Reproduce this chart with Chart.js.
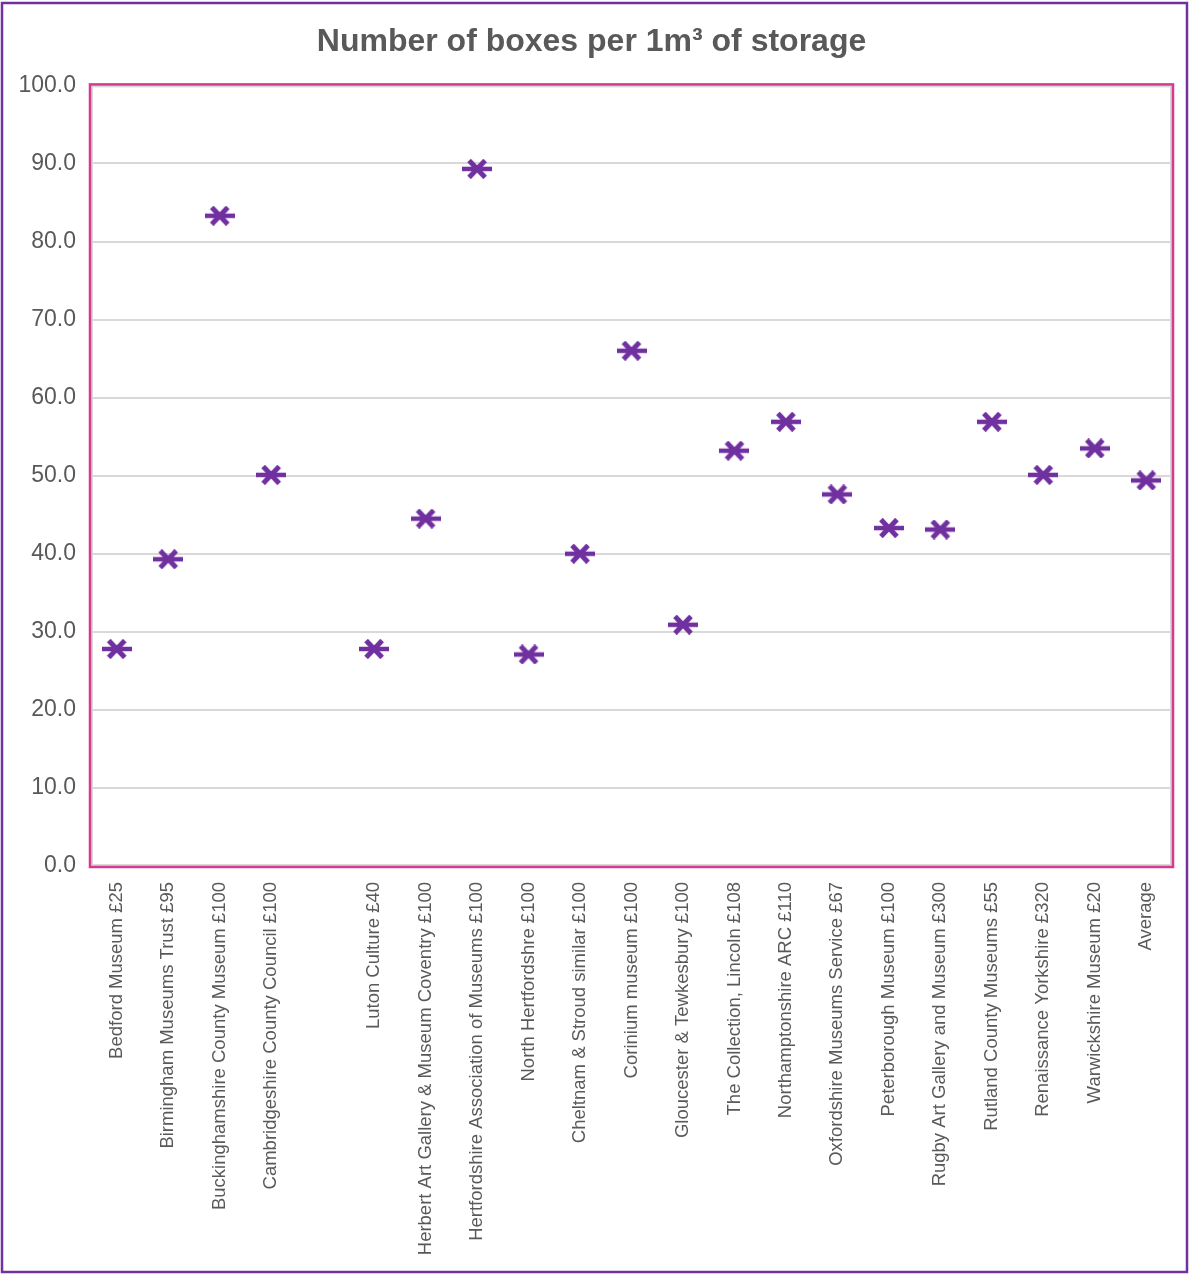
<!DOCTYPE html>
<html>
<head>
<meta charset="utf-8">
<script src="https://cdn.jsdelivr.net/npm/chart.js@4.4.1/dist/chart.umd.min.js"></script>
<style>
  html, body { margin: 0; padding: 0; background: #fff; }
  #wrap { width: 1189px; height: 1274px; position: relative; }
</style>
</head>
<body>
<div id="wrap"><canvas id="boxChart"></canvas></div>
<script>
// storage figures
const museums = [
  'Bedford Museum £25', 'Birmingham Museums Trust £95', 'Buckinghamshire County Museum £100',
  'Cambridgeshire County Council £100', '', 'Luton Culture £40',
  'Herbert Art Gallery & Museum Coventry £100', 'Hertfordshire Association of Museums £100',
  'North Hertfordshre £100', 'Cheltnam & Stroud similar £100', 'Corinium museum £100',
  'Gloucester & Tewkesbury £100', 'The Collection, Lincoln £108', 'Northamptonshire ARC £110',
  'Oxfordshire Museums Service £67', 'Peterborough Museum £100', 'Rugby Art Gallery and Museum £300',
  'Rutland County Museums £55', 'Renaissance Yorkshire £320', 'Warwickshire Museum £20', 'Average'
];
const boxesPerM3 = [
  27.8, 39.3, 83.3, 50.1, null, 27.8,
  44.5, 89.3, 27.1, 40.0, 66.0,
  30.9, 53.2, 56.9, 47.6, 43.3,
  43.1, 56.9, 50.1, 53.5, 49.4
];
const yTicks = [0, 10, 20, 30, 40, 50, 60, 70, 80, 90, 100];

const purple = '#7030a0';
const grey = '#595959';
const font = '"Liberation Sans", Arial, sans-serif';

// excel style star marker: an X with a bar through it
function makeMarker(){
  const c = document.createElement('canvas');
  c.width = 30; c.height = 20;
  const g = c.getContext('2d');
  g.strokeStyle = purple;
  g.lineWidth = 5;
  g.beginPath();
  g.moveTo(7, 1.5); g.lineTo(23, 18.5);
  g.moveTo(23, 1.5); g.lineTo(7, 18.5);
  g.stroke();
  g.lineWidth = 4.5;
  g.beginPath();
  g.moveTo(0, 10); g.lineTo(30, 10);
  g.stroke();
  return c;
}

const frames = {
  id: 'frames',
  beforeDraw(chart){
    const ctx = chart.ctx;
    ctx.save();
    ctx.fillStyle = '#fff';
    ctx.fillRect(0, 0, chart.width, chart.height);
    ctx.strokeStyle = purple;
    ctx.lineWidth = 2.5;
    ctx.strokeRect(2, 3, chart.width - 4, chart.height - 5);
    ctx.restore();
  },
  beforeDatasetsDraw(chart){
    const a = chart.chartArea, ctx = chart.ctx;
    ctx.save();
    ctx.strokeStyle = '#d9d9d9';
    ctx.lineWidth = 2;
    ctx.strokeRect(a.left + 1, a.top + 1, a.right - a.left - 2, a.bottom - a.top - 2);
    ctx.strokeStyle = '#d6398f';
    ctx.lineWidth = 2.5;
    ctx.strokeRect(a.left - 1, a.top - 1, a.right - a.left + 2, a.bottom - a.top + 2);
    ctx.restore();
  }
};

new Chart(document.getElementById('boxChart'), {
  type: 'line',
  data: {
    labels: museums,
    datasets: [{
      label: 'Boxes per m3',
      data: boxesPerM3,
      showLine: false,
      pointStyle: makeMarker(),
      borderColor: purple,
      backgroundColor: purple
    }]
  },
  options: {
    responsive: true,
    maintainAspectRatio: false,
    animation: false,
    layout: { padding: { top: 9, left: 11, right: 17, bottom: 0 } },
    plugins: {
      legend: { display: false },
      tooltip: { enabled: false },
      title: {
        display: true,
        text: 'Number of boxes per 1m³ of storage',
        color: grey,
        font: { family: font, size: 32, weight: 'bold' },
        padding: { top: 14, bottom: 24 }
      }
    },
    scales: {
      x: {
        offset: true,
        grid: { display: false, drawTicks: false },
        border: { display: false },
        ticks: {
          autoSkip: false,
          maxRotation: 90,
          minRotation: 90,
          padding: 16,
          color: grey,
          font: { family: font, size: 18.5 }
        },
        afterFit(scale){ scale.height = 408; }
      },
      y: {
        min: 0,
        max: 100,
        afterBuildTicks(scale){ scale.ticks = yTicks.map(v => ({ value: v })); },
        grid: { color: '#d9d9d9', lineWidth: 2, drawTicks: false },
        border: { display: false },
        ticks: {
          padding: 15,
          color: grey,
          font: { family: font, size: 23 },
          callback: v => Number(v).toFixed(1)
        },
        afterFit(scale){ scale.width = 80; }
      }
    }
  },
  plugins: [frames]
});
</script>
</body>
</html>
